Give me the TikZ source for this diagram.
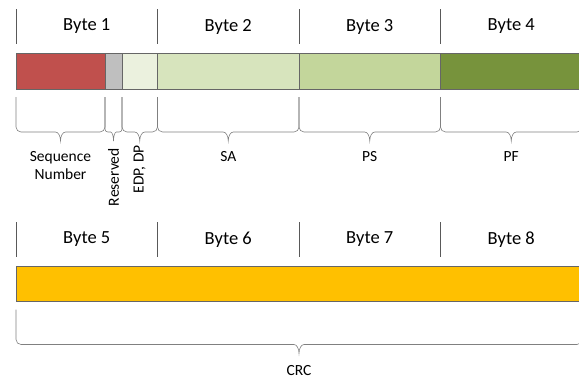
\documentclass[tikz,border=0pt]{standalone}
\usepackage{fontspec}
\setmainfont{Carlito}
\usetikzlibrary{positioning,calc}

\definecolor{snred}{HTML}{C0504D}
\definecolor{resgray}{HTML}{BFBFBF}
\definecolor{edpgreen}{HTML}{EBF1DE}
\definecolor{sagreen}{HTML}{D7E4BD}
\definecolor{psgreen}{HTML}{C3D69B}
\definecolor{pfgreen}{HTML}{77933C}
\definecolor{crcorange}{HTML}{FFC000}

\tikzstyle{field} = [rectangle, minimum height=36pt, inner sep=0pt, outer sep=0pt, draw=black!60, line width=0.6pt]
\tikzstyle{bytehead} = [rectangle, minimum width=141.5pt, minimum height=35pt, inner sep=0pt, outer sep=0pt, font=\fontsize{18.5}{20}\selectfont]
\tikzstyle{divider} = [draw=black!65, line width=0.6pt]
\tikzstyle{bracket} = [draw=black!50, line width=0.6pt]
\tikzstyle{fieldlabel} = [inner sep=1pt, align=center, font=\fontsize{15.5}{18}\selectfont]

% curly bracket under a field, tip named <field>-tip
\newcommand{\fieldbrace}[1]{%
  \draw [bracket] let \p1=(#1.south west), \p2=(#1.south east),
      \n1={(\x1+\x2)/2}, \n2={min(5pt,(\x2-\x1)/6)} in
    (\x1,\y1-8pt) -- (\x1,\y1-43pt+\n2)
    arc[start angle=180, end angle=270, radius=\n2]
    -- (\n1-\n2,\y1-43pt)
    arc[start angle=90, end angle=0, x radius=\n2, y radius=9pt] coordinate (#1-tip)
    arc[start angle=180, end angle=90, x radius=\n2, y radius=9pt]
    -- (\x2-\n2,\y1-43pt)
    arc[start angle=270, end angle=360, radius=\n2]
    -- (\x2,\y1-8pt);
}

\begin{document}
\begin{tikzpicture}[x=1pt, y=1pt]
  \useasboundingbox (0,0) rectangle (579,-381);

  % byte headers
  \foreach \i in {1,...,4} {
    \node (b\i) [bytehead] at ({16+141.5*(\i-0.5)}, -26.5) {Byte \i};
    \draw [divider] (b\i.north west) -- (b\i.south west);
  }
  \draw [divider] (b4.north east) -- (b4.south east);
  \foreach \i in {5,...,8} {
    \node (b\i) [bytehead] at ({16+141.5*(\i-4.5)}, -239.5) {Byte \i};
    \draw [divider] (b\i.north west) -- (b\i.south west);
  }
  \draw [divider] (b8.north east) -- (b8.south east);

  % first frame
  \node (sn) [field, fill=snred, minimum width=89pt, anchor=north west] at (16,-53) {};
  \node (res) [field, fill=resgray, minimum width=17pt, right=0pt of sn] {};
  \node (edp) [field, fill=edpgreen, minimum width=35.5pt, right=0pt of res] {};
  \node (sa) [field, fill=sagreen, minimum width=141.5pt, right=0pt of edp] {};
  \node (ps) [field, fill=psgreen, minimum width=141.5pt, right=0pt of sa] {};
  \node (pf) [field, fill=pfgreen, minimum width=141.5pt, right=0pt of ps] {};

  % second frame
  \node (crc) [field, fill=crcorange, minimum width=566pt, minimum height=35.5pt, anchor=north west] at (16,-266) {};

  \fieldbrace{sn}
  \fieldbrace{res}
  \fieldbrace{edp}
  \fieldbrace{sa}
  \fieldbrace{ps}
  \fieldbrace{pf}
  \fieldbrace{crc}

  \node (snlbl) [fieldlabel, below=9pt of sn-tip] {Sequence\\Number};
  \node (reslbl) [fieldlabel, rotate=90, anchor=east] at ($(res-tip)+(0,-6)$) {Reserved};
  \node (edplbl) [fieldlabel, rotate=90, anchor=east] at ($(edp-tip)+(0,-3)$) {EDP, DP};
  \node (salbl) [fieldlabel, below=9pt of sa-tip] {SA};
  \node (pslbl) [fieldlabel, below=9pt of ps-tip] {PS};
  \node (pflbl) [fieldlabel, below=9pt of pf-tip] {PF};
  \node (crclbl) [fieldlabel, below=11pt of crc-tip] {CRC};
\end{tikzpicture}
\end{document}
